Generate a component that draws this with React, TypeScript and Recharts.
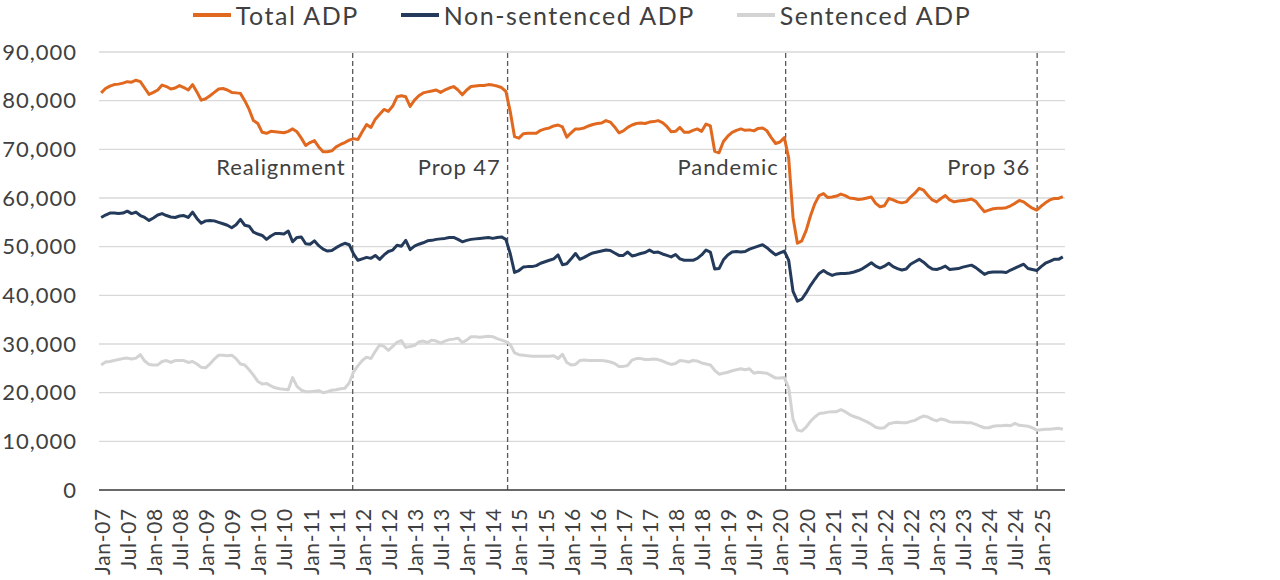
import React from 'react';
import { LineChart, Line, XAxis, YAxis, CartesianGrid, ReferenceLine, Legend } from 'recharts';

// Monthly average daily population, Jan 2007 – Jun 2025
const MONTH_NAMES = ['Jan', 'Feb', 'Mar', 'Apr', 'May', 'Jun', 'Jul', 'Aug', 'Sep', 'Oct', 'Nov', 'Dec'];
const FIRST_YEAR = 2007;
const MONTH_COUNT = 222;

const months: string[] = Array.from({ length: MONTH_COUNT }, (_, i) => {
  const y = FIRST_YEAR + Math.floor(i / 12);
  return `${MONTH_NAMES[i % 12]}-${String(y % 100).padStart(2, '0')}`;
});

const totalADP = [
  81600, 82500, 83000, 83300, 83400, 83600, 83900, 83800, 84200, 83900, 82600, 81300, // 2007
  81700, 82200, 83200, 82900, 82400, 82600, 83100, 82700, 82200, 83300, 81800, 80100, // 2008
  80400, 81000, 81700, 82400, 82500, 82200, 81700, 81600, 81500, 80000, 78200, 75900, // 2009
  75300, 73500, 73300, 73700, 73600, 73500, 73400, 73700, 74200, 73600, 72300, 70800, // 2010
  71400, 71800, 70500, 69500, 69500, 69700, 70500, 71000, 71400, 71900, 72200, 72000, // 2011
  73600, 75100, 74500, 76200, 77200, 78200, 77800, 78900, 80800, 81000, 80800, 78800, // 2012
  80100, 81000, 81600, 81800, 82000, 82200, 81700, 82200, 82600, 82900, 82200, 81200, // 2013
  82200, 82900, 83000, 83100, 83100, 83300, 83200, 83000, 82700, 81900, 77800, 72600, // 2014
  72300, 73200, 73300, 73300, 73300, 73900, 74200, 74400, 74800, 75000, 74600, 72500, // 2015
  73400, 74200, 74200, 74400, 74800, 75100, 75300, 75400, 75900, 75600, 74600, 73400, // 2016
  73800, 74500, 75000, 75300, 75400, 75300, 75600, 75700, 75900, 75500, 74700, 73600, // 2017
  73700, 74500, 73500, 73500, 73900, 74200, 73700, 75200, 74800, 69600, 69300, 71600, // 2018
  72700, 73500, 73900, 74200, 73900, 74000, 73800, 74300, 74400, 73800, 72400, 71200, // 2019
  71500, 72400, 68200, 56000, 50700, 51200, 53300, 56300, 58800, 60500, 60900, 60100, // 2020
  60200, 60400, 60800, 60500, 60000, 59900, 59700, 59800, 60000, 60200, 58900, 58200, // 2021
  58400, 59900, 59600, 59200, 59000, 59200, 60200, 61000, 62000, 61600, 60500, 59600, // 2022
  59200, 59900, 60500, 59600, 59200, 59400, 59500, 59600, 59800, 59300, 58200, 57200, // 2023
  57500, 57800, 57900, 57900, 58000, 58400, 58900, 59500, 59200, 58500, 57900, 57500, // 2024
  58300, 59000, 59600, 59900, 59900, 60300, // 2025
];

const nonSentencedADP = [
  56000, 56500, 56900, 56900, 56800, 56900, 57300, 56800, 57100, 56400, 56000, 55400, // 2007
  55900, 56500, 56800, 56400, 56100, 56000, 56300, 56400, 56000, 57100, 55800, 54800, // 2008
  55300, 55400, 55300, 55000, 54700, 54400, 53900, 54500, 55600, 54400, 54200, 53000, // 2009
  52600, 52300, 51500, 52200, 52700, 52700, 52600, 53200, 51000, 51900, 52000, 50600, // 2010
  50500, 51200, 50200, 49500, 49100, 49200, 49800, 50300, 50700, 50400, 48500, 47200, // 2011
  47500, 47800, 47600, 48200, 47400, 48300, 49000, 49300, 50300, 50100, 51300, 49400, // 2012
  50100, 50500, 50800, 51200, 51300, 51500, 51600, 51700, 51900, 51900, 51500, 51000, // 2013
  51300, 51500, 51600, 51700, 51800, 51900, 51700, 51900, 52000, 51500, 48600, 44700, // 2014
  45100, 45800, 45900, 45900, 46100, 46600, 46900, 47200, 47500, 48300, 46300, 46500, // 2015
  47500, 48600, 47400, 47800, 48300, 48700, 48900, 49100, 49300, 49200, 48700, 48200, // 2016
  48200, 48900, 48100, 48300, 48600, 48800, 49300, 48800, 48900, 48500, 48200, 47900, // 2017
  48400, 47500, 47200, 47200, 47200, 47600, 48300, 49300, 48900, 45400, 45500, 47300, // 2018
  48300, 48900, 49000, 48900, 49000, 49500, 49800, 50100, 50400, 49800, 49000, 48300, // 2019
  48700, 49100, 47200, 40800, 38800, 39200, 40500, 42000, 43300, 44500, 45100, 44500, // 2020
  44100, 44400, 44500, 44500, 44600, 44800, 45100, 45500, 46100, 46700, 46000, 45600, // 2021
  46000, 46600, 45900, 45500, 45200, 45400, 46400, 46900, 47400, 46800, 46000, 45400, // 2022
  45300, 45600, 46000, 45300, 45400, 45500, 45800, 46000, 46200, 45700, 45000, 44300, // 2023
  44700, 44800, 44800, 44800, 44700, 45200, 45600, 46000, 46400, 45500, 45300, 45100, // 2024
  45900, 46600, 47000, 47400, 47400, 47900, // 2025
];

const sentencedADP = [
  25700, 26300, 26400, 26600, 26800, 27000, 27100, 26900, 27100, 27800, 26500, 25800, // 2007
  25700, 25700, 26400, 26600, 26200, 26600, 26600, 26600, 26200, 26400, 25900, 25200, // 2008
  25100, 25900, 26900, 27700, 27700, 27600, 27700, 27000, 25900, 25700, 24700, 23600, // 2009
  22300, 21800, 21900, 21400, 21000, 20800, 20700, 20600, 23100, 21300, 20500, 20200, // 2010
  20200, 20300, 20400, 20000, 20200, 20500, 20600, 20800, 20900, 22000, 24300, 25500, // 2011
  26600, 27300, 27000, 28500, 29800, 29500, 28700, 29500, 30400, 30700, 29300, 29500, // 2012
  29700, 30400, 30600, 30300, 30800, 30600, 30200, 30600, 30900, 31000, 31200, 30300, // 2013
  30800, 31500, 31500, 31400, 31500, 31600, 31500, 31100, 30800, 30500, 29900, 28200, // 2014
  27800, 27700, 27600, 27500, 27500, 27500, 27500, 27500, 27600, 27000, 27900, 26200, // 2015
  25700, 25800, 26600, 26700, 26600, 26600, 26600, 26600, 26500, 26300, 26000, 25400, // 2016
  25400, 25600, 26700, 27000, 27000, 26800, 26800, 26900, 26800, 26500, 26100, 25800, // 2017
  26000, 26600, 26500, 26300, 26600, 26500, 26100, 25900, 25700, 24600, 23800, 24000, // 2018
  24200, 24500, 24700, 24900, 24700, 24900, 24000, 24200, 24100, 24000, 23500, 23000, // 2019
  23000, 23100, 21000, 14500, 12300, 12100, 12900, 14100, 15000, 15700, 15800, 16000, // 2020
  16100, 16100, 16500, 16100, 15500, 15100, 14800, 14400, 14000, 13500, 12900, 12700, // 2021
  12800, 13600, 13800, 13900, 13800, 13800, 14100, 14300, 14800, 15200, 15000, 14500, // 2022
  14200, 14600, 14400, 14000, 13900, 13900, 13900, 13800, 13800, 13500, 13100, 12800, // 2023
  12800, 13100, 13200, 13200, 13300, 13200, 13700, 13300, 13200, 13100, 12800, 12300, // 2024
  12400, 12500, 12500, 12600, 12700, 12500, // 2025
];

// Every sixth month is labelled (Jan / Jul)
const xTickIndexes = months.map((_, i) => i).filter((i) => i % 6 === 0);
const yTicks = [0, 10000, 20000, 30000, 40000, 50000, 60000, 70000, 80000, 90000];

// Policy events, placed on the month index axis
const events = [
  { label: 'Realignment', at: 57.8 },
  { label: 'Prop 47', at: 93.4 },
  { label: 'Pandemic', at: 157.3 },
  { label: 'Prop 36', at: 215.1 },
];

const series = [
  { key: 'total', name: 'Total ADP', color: '#E0691F' },
  { key: 'nonSentenced', name: 'Non-sentenced ADP', color: '#243A5A' },
  { key: 'sentenced', name: 'Sentenced ADP', color: '#D3D3D3' },
];

const data = months.map((month, i) => ({
  i,
  month,
  total: totalADP[i],
  nonSentenced: nonSentencedADP[i],
  sentenced: sentencedADP[i],
}));

const FONT = 'Lato, "Open Sans", sans-serif';
const TEXT = '#404040';

const MonthTick = (props: any) => {
  const { x, y, payload } = props;
  return (
    <text
      x={x}
      y={y + 2}
      transform={`rotate(-90 ${x} ${y + 2})`}
      textAnchor="end"
      dominantBaseline="central"
      fontFamily={FONT}
      fontSize={21}
      letterSpacing={0.7}
      fill={TEXT}
    >
      {months[payload.value]}
    </text>
  );
};

const EventLabel = (text: string) => (props: any) => {
  const { viewBox } = props;
  return (
    <text
      x={viewBox.x - 7}
      y={viewBox.y + 123}
      textAnchor="end"
      fontFamily={FONT}
      fontSize={22}
      letterSpacing={0.9}
      fill={TEXT}
    >
      {text}
    </text>
  );
};

const LegendContent = () => (
  <div
    style={{
      display: 'flex',
      justifyContent: 'center',
      alignItems: 'center',
      height: 32,
      fontFamily: FONT,
      fontSize: 25,
      letterSpacing: 1.5,
      color: TEXT,
      whiteSpace: 'nowrap',
    }}
  >
    {series.map((s, idx) => (
      <div
        key={s.key}
        style={{ display: 'flex', alignItems: 'center', marginRight: idx < series.length - 1 ? 42 : 0 }}
      >
        <span style={{ display: 'inline-block', width: 38, height: 3.5, background: s.color, marginRight: 5 }} />
        {s.name}
      </div>
    ))}
  </div>
);

export default function App() {
  return (
    <div style={{ position: 'absolute', left: 0, top: 0, width: 1280, height: 580, background: '#fff' }}>
      <LineChart width={1280} height={580} data={data} margin={{ top: 20, right: 215, bottom: 0, left: 0 }}>
        <Legend verticalAlign="top" content={<LegendContent />} wrapperStyle={{ left: 99, width: 966, top: -1 }} />
        <CartesianGrid vertical={false} stroke="#D9D9D9" strokeWidth={1.3} />
        <XAxis
          dataKey="i"
          type="number"
          domain={[-0.5, MONTH_COUNT - 0.5]}
          ticks={xTickIndexes}
          interval={0}
          tick={<MonthTick />}
          tickLine={false}
          tickMargin={10}
          height={90}
          axisLine={{ stroke: '#404040', strokeWidth: 1.5 }}
        />
        <YAxis
          type="number"
          domain={[0, 90000]}
          ticks={yTicks}
          interval={0}
          width={99}
          axisLine={false}
          tickLine={false}
          tickMargin={16}
          tickFormatter={(v: number) => v.toLocaleString('en-US')}
          tick={{ fontFamily: FONT, fontSize: 22, fill: TEXT, letterSpacing: 1 }}
        />
        {events.map((e) => (
          <ReferenceLine
            key={e.label}
            x={e.at}
            stroke="#595959"
            strokeWidth={1.3}
            strokeDasharray="5 3"
            label={EventLabel(e.label)}
          />
        ))}
        {series.map((s) => (
          <Line
            key={s.key}
            type="linear"
            dataKey={s.key}
            name={s.name}
            stroke={s.color}
            strokeWidth={3}
            dot={false}
            activeDot={false}
            strokeLinejoin="round"
            isAnimationActive={false}
          />
        ))}
      </LineChart>
    </div>
  );
}
